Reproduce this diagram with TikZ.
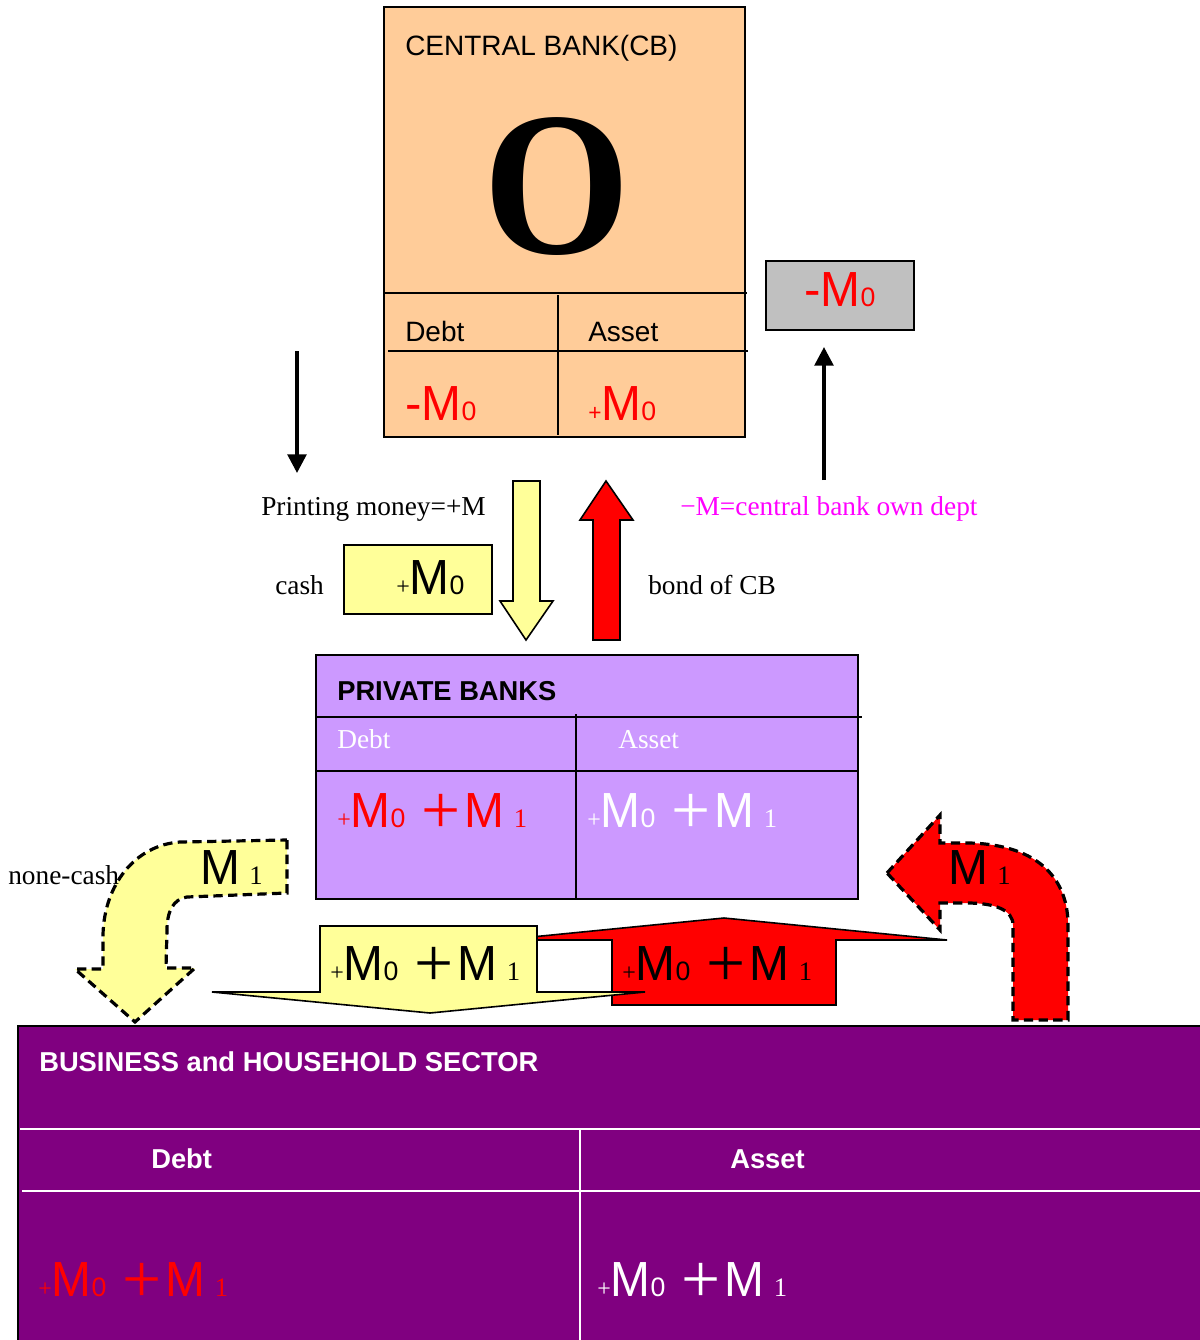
\documentclass[tikz,border=0pt]{standalone}
\usepackage{fontspec}
\setmainfont{Liberation Serif}
\setsansfont{Liberation Sans}
\usepackage{graphicx}
\usetikzlibrary{arrows.meta}
\definecolor{peach}{HTML}{FFCC99}
\definecolor{cbgray}{HTML}{C0C0C0}
\definecolor{lemon}{HTML}{FFFF99}
\definecolor{lilac}{HTML}{CC99FF}
\definecolor{plum}{HTML}{800080}
\definecolor{pink}{HTML}{FF00FF}
\newcommand{\emM}{\scalebox{0.97}[1]{\sffamily\fontsize{37}{37}\selectfont M}}
\newcommand{\emMzero}{\emM{\sffamily\fontsize{20}{20}\selectfont 0}}
\newcommand{\emMone}{\emM\hspace{7pt}{\rmfamily\fontsize{20}{20}\selectfont 1}}
\newcommand{\plusS}{{\rmfamily\fontsize{18}{18}\selectfont +}}
\newcommand{\plusL}{\raisebox{-4.5pt}{\rmfamily\fontsize{52}{52}\selectfont +}}
\newcommand{\emMsum}{\plusS\emMzero\hspace{12pt}\plusL\hspace{3pt}\emMone}
\tikzstyle{box}=[draw,line width=1.5pt]
\tikzstyle{fat}=[draw,line width=1.2pt,line join=miter]
\tikzstyle{curly}=[draw,line width=2.4pt,dash pattern=on 7pt off 4pt]
\tikzstyle{lbl}=[font=\rmfamily\fontsize{20.5}{24}\selectfont,inner sep=0pt,anchor=base west]
\tikzstyle{head}=[font=\sffamily\bfseries\fontsize{20.5}{24}\selectfont,inner sep=0pt,anchor=base west]
\tikzstyle{plain}=[font=\sffamily\fontsize{21}{24}\selectfont,inner sep=0pt,anchor=base west]
\tikzstyle{money}=[inner sep=0pt,anchor=base west]
\tikzstyle{thin}=[-{Triangle[width=14pt,length=14pt]},line width=2.7pt]

\begin{document}
\begin{tikzpicture}[x=0.75pt,y=-0.75pt]
\useasboundingbox (0,0) rectangle (1200,1340);
% central bank
\draw[box,fill=peach] (384,7) rectangle (745,437);
\draw[line width=1.5pt] (384,293) -- (747,293) (388,351) -- (748,351) (558,295) -- (558,435);
\node[plain] (cb) at (405,55) {CENTRAL BANK(CB)};
\node[inner sep=0pt] (zero) at (557,187) {\scalebox{0.92}[1]{\rmfamily\bfseries\fontsize{154}{154}\selectfont O}};
\node[plain] (cbdebt) at (405,341) {Debt};
\node[plain] (cbasset) at (588,341) {Asset};
\node[money,red] (cbminus) at (405,420) {\sffamily\fontsize{37}{37}\selectfont -\emMzero};
\node[money,red] (cbplus) at (588,420) {{\sffamily\fontsize{17}{17}\selectfont +}\emMzero};
\node[box,fill=cbgray,minimum width=111pt,minimum height=51.75pt] (own) at (840,295.5) {};
\node[money,red,anchor=base] (ownm) at (840,306) {\sffamily\fontsize{37}{37}\selectfont -\emMzero};
\coordinate (up0) at (824,480);
\draw[thin] (up0) -- ([yshift=-12pt]up0 |- own.south);
\coordinate (dn0) at (297,351);
\coordinate (dn1) at (297,473);
\draw[thin] (dn0) -- (dn1);
\node[lbl] (print) at (261,515) {Printing money=+M};
\node[lbl,pink] (dept) at (680,515) {−M=central bank own dept};
\node[lbl] (cash) at (275,594) {cash};
\node[lbl] (bond) at (648,594) {bond of CB};
\draw[box,fill=lemon] (344,545) rectangle (492,614);
\node[money] (cashm) at (396,594) {\plusS\emMzero};
\draw[fat,fill=lemon] (513,481) -- (540,481) -- (540,601) -- (553,601) -- (526,640) -- (500,601) -- (513,601) -- cycle;
\draw[fat,fill=red] (593,640) -- (620,640) -- (620,520) -- (633,520) -- (606,481) -- (580,520) -- (593,520) -- cycle;
% private banks
\draw[box,fill=lilac] (316,655) rectangle (858,899);
\draw[line width=1.5pt] (316,717) -- (862,717) (316,771) -- (858,771) (576,714) -- (576,899);
\node[head] (pb) at (337,700) {PRIVATE BANKS};
\node[lbl,white] (pbdebt) at (337,748) {Debt};
\node[lbl,white] (pbasset) at (618,748) {Asset};
\node[money,red] (pbleft) at (337,827) {\emMsum};
\node[money,white] (pbright) at (587,827) {\emMsum};
% flows
\draw[curly,fill=lemon] (287,840) -- (287,893) -- (187,897) .. controls (173,899) and (167,912) .. (167,930) -- (166,968) -- (195,968) -- (135,1022) -- (75,969) -- (103,969) -- (103,935) .. controls (104,885) and (135,845) .. (180,842) -- cycle;
\draw[curly,fill=red] (887,873) -- (940,815) -- (940,843) -- (970,843) .. controls (1040,845) and (1068,880) .. (1068,925) -- (1068,1020) -- (1013,1020) -- (1013,925) .. controls (1013,910) and (995,903) .. (967,903) -- (940,903) -- (940,930) -- cycle;
\node[money] (m1a) at (200,884) {\emMone};
\node[money] (m1b) at (948,884) {\emMone};
\node[lbl] (nocash) at (8,884) {none-cash};
\draw[fat,fill=red] (612,1005) -- (836,1005) -- (836,940) -- (947,940) -- (724,918) -- (501,940) -- (612,940) -- cycle;
\draw[fat,fill=lemon] (320,926) -- (537,926) -- (537,992) -- (645,992) -- (430,1013) -- (212,992) -- (320,992) -- cycle;
\node[money] (midl) at (330,980) {\emMsum};
\node[money] (midr) at (622,980) {\emMsum};
% business and households
\draw[box,fill=plum] (18,1026) rectangle (1205,1345);
\draw[white,line width=1.5pt] (20,1129) -- (1200,1129) (22,1191) -- (1200,1191) (580,1129) -- (580,1340);
\node[head,white] (bh) at (39,1071) {BUSINESS and HOUSEHOLD SECTOR};
\node[head,white] (bhdebt) at (151,1168) {Debt};
\node[head,white] (bhasset) at (730,1168) {Asset};
\node[money,red] (bhleft) at (38,1296) {\emMsum};
\node[money,white] (bhright) at (597,1296) {\emMsum};
\end{tikzpicture}
\end{document}
